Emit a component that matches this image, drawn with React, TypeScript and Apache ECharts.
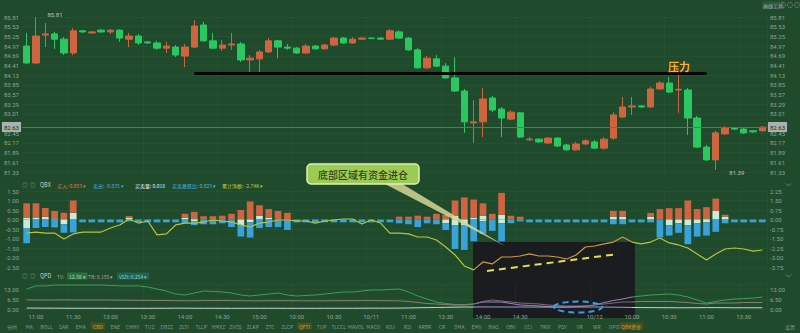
import React, { useEffect, useRef } from 'react';
import * as echarts from 'echarts';

// 15-minute candles: [open, close, low, high]
const candles: number[][] = [
  [84.97, 84.48, 84.45, 85.35],
  [84.48, 85.26, 84.45, 85.81],
  [85.29, 85.32, 84.94, 85.64],
  [85.32, 85.17, 84.89, 85.38],
  [85.17, 84.77, 84.71, 85.23],
  [84.77, 85.41, 84.71, 85.49],
  [85.41, 85.38, 85.35, 85.43],
  [85.35, 85.38, 85.32, 85.41],
  [85.43, 85.38, 85.35, 85.46],
  [85.38, 85.43, 85.32, 85.46],
  [85.43, 85.20, 85.09, 85.46],
  [85.17, 85.26, 84.94, 85.35],
  [85.26, 85.06, 85.00, 85.32],
  [85.09, 85.06, 85.03, 85.12],
  [85.06, 84.91, 84.86, 85.12],
  [84.91, 84.97, 84.77, 85.09],
  [84.94, 84.71, 84.65, 85.00],
  [84.68, 84.94, 84.36, 85.03],
  [84.94, 85.55, 84.91, 85.72],
  [85.58, 85.12, 85.09, 85.67],
  [85.12, 84.91, 84.89, 85.35],
  [84.91, 85.00, 84.83, 85.15],
  [85.00, 85.03, 84.86, 85.35],
  [85.03, 84.57, 84.51, 85.09],
  [84.57, 84.62, 84.22, 84.71],
  [84.60, 84.80, 84.22, 84.86],
  [84.80, 85.12, 84.77, 85.20],
  [85.12, 84.94, 84.62, 85.15],
  [84.94, 84.91, 84.86, 85.03],
  [84.91, 84.77, 84.74, 84.94],
  [84.77, 84.97, 84.74, 85.03],
  [84.97, 84.89, 84.86, 85.00],
  [84.89, 85.00, 84.86, 85.03],
  [85.00, 85.20, 84.97, 85.23],
  [85.20, 85.06, 85.03, 85.23],
  [85.06, 85.17, 85.03, 85.23],
  [85.17, 85.20, 85.15, 85.23],
  [85.20, 85.19, 85.17, 85.22],
  [85.20, 85.17, 85.15, 85.23],
  [85.17, 85.41, 85.15, 85.46],
  [85.38, 85.20, 85.17, 85.43],
  [85.20, 84.86, 84.83, 85.23],
  [84.86, 84.34, 84.31, 84.91],
  [84.34, 84.62, 84.31, 84.68],
  [84.60, 84.39, 84.36, 84.71],
  [84.39, 84.05, 84.02, 84.48],
  [84.05, 83.67, 83.64, 84.65],
  [83.67, 82.78, 82.46, 83.73],
  [82.75, 82.78, 82.17, 83.41],
  [82.78, 83.44, 82.34, 83.76],
  [83.47, 83.12, 83.06, 83.53],
  [83.15, 82.89, 82.34, 83.21],
  [82.86, 83.06, 82.83, 83.12],
  [83.04, 82.34, 82.31, 83.06],
  [82.26, 82.28, 82.23, 82.34],
  [82.28, 82.20, 82.17, 82.31],
  [82.17, 82.31, 82.14, 82.34],
  [82.31, 82.08, 82.05, 82.34],
  [82.11, 81.97, 81.94, 82.14],
  [81.97, 82.14, 81.94, 82.20],
  [82.14, 82.23, 82.11, 82.28],
  [82.20, 82.02, 82.00, 82.26],
  [82.02, 82.28, 81.97, 82.34],
  [82.31, 82.98, 82.26, 83.06],
  [82.92, 83.21, 82.89, 83.50],
  [83.21, 83.24, 82.98, 83.50],
  [83.24, 83.21, 83.18, 83.27],
  [83.21, 83.73, 83.18, 83.79],
  [83.73, 83.90, 83.70, 83.96],
  [83.90, 83.64, 83.61, 84.08],
  [83.70, 83.72, 83.04, 84.34],
  [83.70, 82.89, 82.40, 83.76],
  [82.89, 82.05, 82.02, 82.95],
  [82.05, 81.68, 81.65, 82.11],
  [81.68, 82.46, 81.39, 82.52],
  [82.43, 82.60, 82.40, 82.66],
  [82.60, 82.57, 82.54, 82.63],
  [82.57, 82.46, 82.43, 82.60],
  [82.52, 82.49, 82.46, 82.54],
  [82.52, 82.63, 82.49, 82.66],
];

// time labels, one every four candles
const tickLabels: string[] = [
  '11:00', '11:30', '13:00', '13:30', '14:00', '14:30', '15:00', '10:00', '10:30', '10/11',
  '11:00', '13:30', '14:00', '14:30', '', '10/12', '10:00', '10:30', '11:00', '13:30',
];

// QBX fund-flow bars (stacked)
const flowRedUp: number[] = [
  0.75, 0.75, 0.45, 0.4, 0.35, 0.65, 0, 0, 0, 0,
  0, 0.1, 0, 0, 0, 0, 0, 0.2, 0.35, 0.17,
  0.17, 0.2, 0.3, 0.5, 0.95, 0.55, 0.45, 0.45, 0.35, 0,
  0, 0, 0, 0, 0, 0, 0, 0, 0, 0,
  0.15, 0.15, 0.2, 0.15, 0.3, 0.25, 0.8, 1.16, 0.95, 0.65,
  0.3, 1.15, 0.2, 0.15, 0, 0, 0, 0, 0, 0,
  0, 0, 0, 0.3, 0.3, 0, 0, 0.2, 0.55, 0.6,
  0.6, 1.0, 0.55, 0.6, 0.65, 0.1, 0, 0, 0, 0,
];
const flowMintUp: number[] = [
  0.1, 0.1, 0.15, 0.05, 0, 0.35, 0, 0, 0, 0,
  0, 0.08, 0, 0, 0, 0, 0, 0.1, 0.05, 0,
  0, 0, 0, 0, 0, 0.2, 0.1, 0, 0, 0,
  0, 0, 0, 0, 0, 0, 0, 0, 0, 0,
  0, 0, 0, 0, 0, 0, 0.2, 0, 0.1, 0.2,
  0, 0.25, 0, 0, 0, 0, 0, 0, 0, 0,
  0, 0, 0, 0.15, 0.15, 0, 0, 0.15, 0, 0,
  0, 0, 0, 0.05, 0.45, 0.15, 0, 0, 0, 0,
];
const flowMintDown: number[] = [
  -0.45, 0, 0, 0, -0.25, 0, 0, 0, 0, 0,
  0, 0, 0, 0, 0, 0, 0, 0, -0.1, 0,
  0, 0, 0, -0.3, -0.15, 0, 0, 0, 0, 0,
  0, 0, 0, 0, 0, 0, 0, 0, 0, 0,
  0, 0, 0, 0, 0, -0.2, -0.3, -0.3, 0, -0.1,
  0, -0.2, 0, 0, 0, 0, 0, 0, 0, 0,
  0, 0, 0, 0, 0, 0, 0, 0, 0, -0.3,
  -0.2, -0.3, -0.2, -0.15, 0, 0, 0, 0, 0, 0,
];
const flowBlueDown: number[] = [
  -0.8, -0.45, -0.4, -0.42, -0.45, -0.68, -0.15, -0.15, -0.15, -0.15,
  -0.15, -0.1, -0.15, -0.15, -0.15, -0.15, -0.15, -0.2, -0.2, -0.25,
  -0.25, -0.2, -0.4, -0.6, -0.8, -0.45, -0.4, -0.4, -0.55, -0.15,
  -0.15, -0.15, -0.15, -0.15, -0.15, -0.15, -0.15, -0.15, -0.15, -0.15,
  -0.2, -0.25, -0.4, -0.2, -0.25, -0.35, -1.25, -1.3, -1.15, -0.65,
  -0.6, -0.95, -0.2, -0.1, -0.15, -0.15, -0.15, -0.15, -0.15, -0.15,
  -0.15, -0.15, -0.15, -0.25, -0.25, -0.15, -0.15, -0.15, -0.95, -0.55,
  -0.5, -1.0, -0.7, -0.7, -0.65, -0.2, -0.15, -0.15, -0.15, -0.15,
];
// cumulative net flow (right axis of the QBX pane)
const flowNet: number[] = [
  -1.07, -0.99, -1.07, -1.07, -1.54, -1.14, -0.99, -0.99, -0.99, -0.67,
  -0.43, 0.04, -0.28, -0.12, -1.22, -1.14, -0.43, -0.28, -0.28, -0.2,
  -0.04, -0.12, -0.2, -0.43, -0.59, -0.28, -0.2, -0.04, -0.04, -0.12,
  -0.12, -0.28, -0.12, -0.04, 0.04, 0.04, -0.36, -0.04, -0.28, -1.07,
  -1.07, -1.14, -1.38, -1.38, -1.62, -2.17, -2.8, -3.67, -3.98, -3.35,
  -3.51, -2.96, -2.96, -2.88, -2.72, -2.88, -2.88, -2.96, -3.12, -2.8,
  -2.17, -2.09, -1.93, -1.78, -1.38, -1.78, -1.93, -1.78, -1.46, -1.85,
  -2.01, -2.25, -2.72, -3.2, -2.72, -2.33, -2.25, -2.33, -2.49, -2.41,
];

// QPD pane lines
const qpdTV: number[] = [
  13.0, 15.0, 15.0, 15.6, 15.6, 15.6, 15.6, 15.6, 15.6, 15.3,
  15.0, 15.0, 15.0, 14.3, 13.0, 11.7, 9.75, 9.1, 10.4, 11.7,
  11.4, 11.05, 10.4, 9.1, 8.45, 9.1, 9.75, 10.4, 9.1, 8.45,
  8.8, 9.1, 9.75, 10.4, 11.05, 11.05, 11.7, 12.35, 12.35, 12.7,
  13.0, 11.05, 8.45, 6.5, 4.55, 3.6, 2.9, 2.6, 3.25, 4.55,
  4.55, 4.55, 3.6, 2.6, 2.3, 1.95, 1.6, 1.3, 1.3, 1.6,
  1.95, 2.6, 4.2, 5.5, 6.5, 7.8, 8.45, 9.1, 9.4, 9.75,
  9.1, 7.8, 5.85, 3.9, 4.9, 5.85, 6.5, 6.8, 7.15, 7.8,
];
const qpdTB: number[] = [
  5.9, 5.85, 5.8, 5.85, 5.9, 5.85, 5.8, 5.8, 5.85, 5.8,
  5.75, 5.7, 5.6, 5.6, 5.55, 5.5, 5.4, 5.3, 5.35, 5.45,
  5.5, 5.5, 5.45, 5.4, 5.3, 5.3, 5.35, 5.4, 5.4, 5.35,
  5.3, 5.3, 5.3, 5.35, 5.4, 5.4, 5.45, 5.45, 5.4, 5.35,
  5.3, 4.9, 4.2, 3.6, 3.25, 2.9, 2.6, 2.9, 3.25, 4.9,
  5.85, 5.2, 4.55, 3.9, 3.6, 3.25, 2.6, 2.3, 1.95, 1.95,
  1.95, 2.6, 3.25, 3.9, 4.55, 4.55, 4.9, 4.9, 4.9, 4.9,
  4.55, 4.2, 3.6, 3.25, 3.9, 3.9, 3.9, 4.2, 4.2, 4.2,
];
const qpdVSD: number[] = [
  0.6, 0.6, 0.55, 0.55, 0.5, 0.5, 0.5, 0.5, 0.5, 0.45,
  0.45, 0.45, 0.45, 0.45, 0.5, 0.5, 0.55, 0.55, 0.5, 0.5,
  0.5, 0.45, 0.45, 0.45, 0.5, 0.5, 0.5, 0.5, 0.45, 0.45,
  0.45, 0.45, 0.5, 0.5, 0.5, 0.5, 0.5, 0.55, 0.55, 0.55,
  0.6, 0.7, 0.8, 0.9, 1.0, 1.1, 1.2, 1.3, 1.3, 1.35,
  1.35, 1.3, 1.3, 1.3, 1.25, 1.25, 1.2, 1.2, 1.2, 1.25,
  1.3, 1.3, 1.25, 1.2, 1.1, 1.0, 0.95, 0.9, 0.85, 0.85,
  0.8, 0.8, 0.85, 0.9, 0.9, 0.85, 0.8, 0.8, 0.8, 0.8,
];

// hand-drawn resistance line ("压力")
const resistanceLevel = 84.19;
const resistanceFrom = 18;
const resistanceTo = 73;

// highlighted snapshot window (category span)
const snapFrom = 47.96;
const snapTo = 65.4;

const indicatorTabs: string[] = [
  '分时', 'MA', 'BOLL', 'SAR', 'EMA', 'CBD', 'ENE', 'CHHV', 'TUZ', 'DBZZ',
  'ZLTI', 'TLLP', 'HMXZ', 'ZVOS', 'ZLKP', 'ZTC', 'ZLCP', 'QFTI', 'TUP', 'TLCCL',
  'MAVOL', 'MACD', 'KDJ', 'RSI', 'ARBR', 'CR', 'DMA', 'EMV', 'BIAS', 'OBV',
  'CCI', 'TRIX', 'PSY', 'VR', 'WR', 'DPO', 'QBX资金',
];
const highlightedTabs = ['CBD', 'QFTI', 'QBX资金'];

const BG = '#1f4a2c';
const UP = '#cf6440';
const DOWN = '#2bc862';
const MINT = '#c9ecd9';
const BLUE = '#37a3d8';
const AXIS_TXT = '#8fa497';
const UI_FONT = '"Noto Sans CJK SC", "Noto Sans", sans-serif';
const NUM_FONT = 'Roboto, "Noto Sans", sans-serif';

const categories = candles.map((_, i) => String(i));
const lastClose = candles[candles.length - 1][1];

const snapPieces = (outside: string, inside: string) => [
  { lt: snapFrom, color: outside },
  { gte: snapFrom, lte: snapTo, color: inside },
  { gt: snapTo, color: outside },
];

const txt = (x: number, y: number, text: string, fill: string, size = 5.5, extra: any = {}) => ({
  type: 'text',
  x,
  y,
  z: 30,
  style: { text, fill, font: `${size}px ${UI_FONT}`, verticalAlign: 'middle', ...extra },
});

function buildOption(): any {
  const grids = [
    { left: 22, right: 33, top: 17, height: 155 },
    { left: 22, right: 33, top: 191, height: 76 },
    { left: 22, right: 33, top: 284, height: 25 },
  ];

  const faint = { show: true, lineStyle: { color: 'rgba(255,255,255,0.035)', width: 1 } };

  const xAxis = grids.map((_, gi) => ({
    type: 'category',
    gridIndex: gi,
    data: categories,
    boundaryGap: true,
    axisLine: { show: false },
    axisTick: { show: false },
    splitLine: { ...faint, interval: (i: number) => i % 8 === 5 },
    z: gi === 2 ? 6 : 0,
    axisLabel:
      gi === 2
        ? {
            show: true,
            interval: (i: number) => i % 4 === 1,
            formatter: (_v: string, i: number) => tickLabels[(i - 1) / 4] ?? '',
            color: AXIS_TXT,
            fontSize: 6,
            fontFamily: NUM_FONT,
            margin: 4,
          }
        : { show: false },
  }));

  const valAxis = (
    gi: number,
    pos: string,
    min: number,
    max: number,
    interval: number,
    fmt: (v: number) => string = (v) => v.toFixed(2),
    extra: any = {},
  ) => ({
    type: 'value',
    gridIndex: gi,
    position: pos,
    min,
    max,
    interval,
    scale: true,
    axisLine: { show: false },
    axisTick: { show: false },
    splitLine: pos === 'left' ? faint : { show: false },
    axisLabel: {
      color: AXIS_TXT,
      fontSize: 6,
      fontFamily: NUM_FONT,
      margin: 3,
      formatter: fmt,
      ...extra,
    },
  });

  // the last-price tag sits over the price scale, so the tick it covers is left blank
  const priceFmt = (v: number) => (Math.abs(v - lastClose) < 0.15 ? '' : v.toFixed(2));

  const yAxis = [
    valAxis(0, 'left', 81.33, 85.81, 0.28, priceFmt),
    valAxis(0, 'right', 81.33, 85.81, 0.28, priceFmt),
    valAxis(1, 'left', -2.5, 1.5, 0.5),
    valAxis(1, 'right', -3.75, 2.25, 0.75),
    valAxis(2, 'left', 0, 16.25, 6.5, undefined, { showMaxLabel: false }),
    valAxis(2, 'right', 0, 16.25, 6.5, undefined, { showMaxLabel: false }),
  ];

  const priceTag = {
    show: true,
    fontSize: 6,
    fontFamily: NUM_FONT,
    color: '#1d2b22',
    backgroundColor: '#a9b3ac',
    padding: [2, 2],
    distance: 1,
    formatter: (p: any) => Number(p.value).toFixed(2),
  };

  const bar = (name: string, data: number[], color: string) => ({
    name,
    type: 'bar',
    xAxisIndex: 1,
    yAxisIndex: 2,
    stack: 'flow',
    barWidth: '72%',
    data,
    itemStyle: { color },
    z: 3,
  });

  const series: any[] = [
    {
      name: 'K',
      type: 'candlestick',
      xAxisIndex: 0,
      yAxisIndex: 0,
      data: candles,
      barWidth: '74%',
      itemStyle: { color: UP, color0: DOWN, borderColor: UP, borderColor0: DOWN, borderWidth: 1 },
      markPoint: {
        symbol: 'circle',
        symbolSize: 1,
        itemStyle: { color: 'rgba(0,0,0,0)' },
        label: {
          show: true,
          position: 'right',
          color: '#b9c6bd',
          fontSize: 6,
          fontFamily: NUM_FONT,
          formatter: (p: any) => Number(p.value).toFixed(2),
        },
        data: [
          { type: 'max', valueDim: 'highest', label: { offset: [6, -3] } },
          { type: 'min', valueDim: 'lowest', label: { offset: [8, 3] } },
        ],
      },
      markLine: {
        symbol: ['none', 'none'],
        silent: true,
        data: [
          [
            { coord: [resistanceFrom, resistanceLevel], lineStyle: { color: '#060606', width: 3, type: 'solid' }, label: { show: false } },
            { coord: [resistanceTo, resistanceLevel] },
          ],
          { yAxis: lastClose, lineStyle: { color: '#8a6a2c', width: 1, type: 'solid' }, label: { ...priceTag, position: 'start' } },
          { yAxis: lastClose, lineStyle: { color: '#8a6a2c', width: 1, type: 'solid' }, label: { ...priceTag, position: 'end' } },
        ],
      },
    },
    bar('mintUp', flowMintUp, MINT),
    bar('redUp', flowRedUp, UP),
    bar('mintDown', flowMintDown, MINT),
    bar('blueDown', flowBlueDown, BLUE),
    {
      name: 'net',
      type: 'line',
      xAxisIndex: 1,
      yAxisIndex: 3,
      data: flowNet,
      showSymbol: false,
      clip: false,
      lineStyle: { width: 1.2 },
      z: 5,
    },
    { name: 'TV', type: 'line', xAxisIndex: 2, yAxisIndex: 4, data: qpdTV, showSymbol: false, lineStyle: { width: 1 }, z: 5 },
    { name: 'TB', type: 'line', xAxisIndex: 2, yAxisIndex: 4, data: qpdTB, showSymbol: false, lineStyle: { width: 1 }, z: 5 },
    { name: 'VSD', type: 'line', xAxisIndex: 2, yAxisIndex: 4, data: qpdVSD, showSymbol: false, lineStyle: { width: 1 }, z: 5 },
  ];

  const visualMap = [
    { type: 'piecewise', show: false, seriesIndex: 5, dimension: 0, pieces: snapPieces('#b7c33a', '#c99a45') },
    { type: 'piecewise', show: false, seriesIndex: 6, dimension: 0, pieces: snapPieces('#3d9e58', '#9c86b6') },
    { type: 'piecewise', show: false, seriesIndex: 7, dimension: 0, pieces: snapPieces('#86836f', '#7a6a80') },
    { type: 'piecewise', show: false, seriesIndex: 8, dimension: 0, pieces: snapPieces('#cdd2d8', '#a996d6') },
  ];

  const tabEls = indicatorTabs.map((t, k) => {
    const hot = highlightedTabs.includes(t);
    return txt(12 + k * 17.2, 326, t, hot ? '#dc9a30' : '#88998e', 5, {
      align: 'center',
      ...(hot ? { backgroundColor: 'rgba(110,85,20,0.55)', padding: [1, 2] } : {}),
    });
  });

  const chevron = (y: number) => ({
    type: 'polyline',
    z: 30,
    shape: { points: [[786, y - 1.5], [788.5, y + 1], [791, y - 1.5]] },
    style: { stroke: '#7f9086', lineWidth: 0.8, fill: 'none' },
  });

  const graphic = [
    // snapshot window
    { type: 'rect', z: 1, shape: { x: 473, y: 242, width: 162, height: 76 }, style: { fill: '#1b1c1f' } },
    // trend line inside the window
    { type: 'line', z: 20, shape: { x1: 487, y1: 271, x2: 618, y2: 254 }, style: { stroke: '#e6e04a', lineWidth: 2, lineDash: [7, 5] } },
    // dashed ring on the QPD lows
    { type: 'ellipse', z: 20, shape: { cx: 578, cy: 307, rx: 24, ry: 5.5 }, style: { fill: 'none', stroke: '#2aa6e6', lineWidth: 2, lineDash: [6, 4] } },
    // callout pointer and bubble
    { type: 'polygon', z: 20, shape: { points: [[381, 182], [399, 182], [505, 246]] }, style: { fill: 'rgba(214,214,150,0.85)' } },
    { type: 'rect', z: 21, shape: { x: 307, y: 164, width: 112, height: 20, r: 4 }, style: { fill: '#9bcb55', stroke: '#dff2b0', lineWidth: 1.5 } },
    txt(363, 174.5, '底部区域有资金进仓', '#34421b', 10, { align: 'center', font: `500 10px ${UI_FONT}` }),
    // resistance tag
    txt(679, 66, '压力', '#f6b232', 11, { align: 'center', font: `bold 11px ${UI_FONT}`, stroke: '#4a2a00', lineWidth: 1 }),
    // top-right tools
    txt(762, 5, '画线工具', '#a3b3a8', 5, { backgroundColor: 'rgba(255,255,255,0.08)', padding: [1, 1] }),
    { type: 'circle', z: 30, shape: { cx: 783, cy: 5, r: 2.5 }, style: { fill: 'none', stroke: '#6f8076', lineWidth: 0.8 } },
    { type: 'circle', z: 30, shape: { cx: 790, cy: 5, r: 2.5 }, style: { fill: 'none', stroke: '#6f8076', lineWidth: 0.8 } },
    { type: 'circle', z: 30, shape: { cx: 797, cy: 5, r: 2.5 }, style: { fill: 'none', stroke: '#6f8076', lineWidth: 0.8 } },
    // QBX pane legend
    txt(22, 185, '◎', '#7f9086', 5.5),
    txt(30, 185, '◎', '#7f9086', 5.5),
    txt(40, 185, 'QBX', '#c5cec8', 5.5),
    txt(57, 185, '买入: 0.053 ▾', '#e07a55', 5),
    txt(93, 185, '卖出: -0.035 ▾', '#4aaee0', 5),
    txt(135, 185, '买卖量: 0.018', '#e9ecea', 5),
    txt(172, 185, '买卖意愿比: 0.023 ▾', '#4bbce6', 5),
    txt(222, 185, '累计净额: -2.74K ▾', '#c9c948', 5),
    chevron(185),
    // QPD pane legend
    txt(22, 276, '◎', '#7f9086', 5.5),
    txt(30, 276, '◎', '#7f9086', 5.5),
    txt(40, 276, 'QPD', '#c5cec8', 5.5),
    txt(57, 276, 'TV:', '#9aa89f', 5),
    txt(67, 276, '12.38 ▾', '#8fe6a8', 5, { backgroundColor: 'rgba(60,160,90,0.45)', padding: [1, 2] }),
    txt(88, 276, 'TB: 8.155 ▾', '#c49a9a', 5),
    txt(117, 276, 'VSD: 0.254 ▾', '#72d8d2', 5, { backgroundColor: 'rgba(40,120,120,0.5)', padding: [1, 2] }),
    chevron(276),
    // indicator tabs
    ...tabEls,
    txt(790, 326, '设置', '#88998e', 5, { align: 'center' }),
  ];

  return {
    animation: false,
    backgroundColor: BG,
    grid: grids,
    xAxis,
    yAxis,
    visualMap,
    series,
    graphic,
  };
}

export default function App() {
  const ref = useRef<HTMLDivElement>(null);
  useEffect(() => {
    const el = ref.current;
    if (!el) return;
    const chart = echarts.init(el, null, { renderer: 'svg' });
    chart.setOption(buildOption());
    return () => chart.dispose();
  }, []);
  return (
    <div
      ref={ref}
      style={{ position: 'absolute', left: 0, top: 0, width: 800, height: 333, background: BG }}
    />
  );
}
